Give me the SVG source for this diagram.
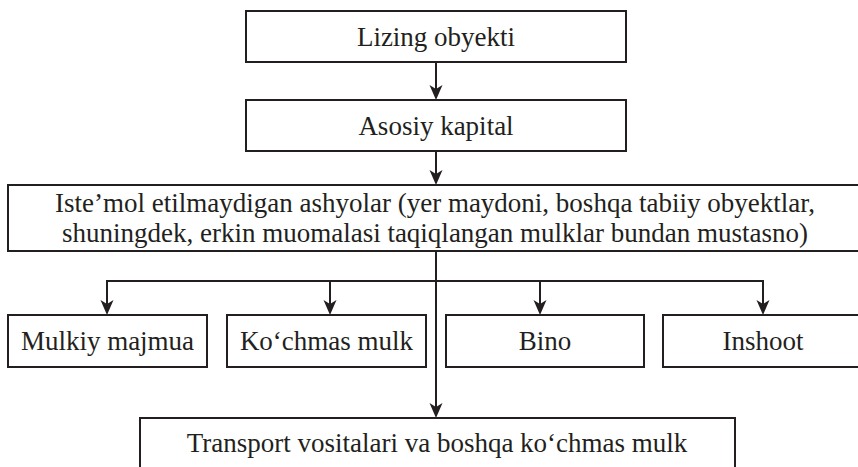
<svg xmlns="http://www.w3.org/2000/svg" width="858" height="467" viewBox="0 0 858 467">
<style>
.box{fill:#fff;stroke:#231f20;stroke-width:2}
.t{font-family:'Liberation Serif','Times New Roman',serif;font-size:27px;fill:#231f20;text-anchor:middle}
.ln{fill:none;stroke:#231f20;stroke-width:2}
.ah{fill:#231f20;stroke:none}
</style>
<rect width="858" height="467" fill="#fff"/>
<g id="connectors">
<path class="ln" d="M436,62 V90"/>
<path class="ah" d="M436,100 L429.5,85 L436,89 L442.5,85 Z"/>
<path class="ln" d="M436,151 V175"/>
<path class="ah" d="M436,185 L429.5,170 L436,174 L442.5,170 Z"/>
<path class="ln" d="M436,251 V408"/>
<path class="ah" d="M436,418 L429.5,403 L436,407 L442.5,403 Z"/>
<path class="ln" d="M107,305 V281 H763 V305"/>
<path class="ln" d="M330,281 V305"/>
<path class="ln" d="M540,281 V305"/>
<path class="ah" d="M107,315 L100.5,300 L107,304 L113.5,300 Z"/>
<path class="ah" d="M330,315 L323.5,300 L330,304 L336.5,300 Z"/>
<path class="ah" d="M540,315 L533.5,300 L540,304 L546.5,300 Z"/>
<path class="ah" d="M763,315 L756.5,300 L763,304 L769.5,300 Z"/>
</g>
<g id="lizing">
<rect class="box" x="246" y="11" width="380" height="51"/>
<text class="t" x="436" y="46">Lizing obyekti</text>
</g>
<g id="asosiy">
<rect class="box" x="246" y="100" width="380" height="51"/>
<text class="t" x="436" y="135">Asosiy kapital</text>
</g>
<g id="istemol">
<rect class="box" x="8" y="185" width="860" height="66"/>
<text class="t" x="435" y="212">Iste’mol etilmaydigan ashyolar (yer maydoni, boshqa tabiiy obyektlar,</text>
<text class="t" x="435" y="242">shuningdek, erkin muomalasi taqiqlangan mulklar bundan mustasno)</text>
</g>
<g id="mulkiy">
<rect class="box" x="8" y="315" width="199" height="52"/>
<text class="t" x="107.5" y="350">Mulkiy majmua</text>
</g>
<g id="kochmas">
<rect class="box" x="227" y="315" width="199" height="52"/>
<text class="t" x="326.5" y="350">Ko‘chmas mulk</text>
</g>
<g id="bino">
<rect class="box" x="446" y="315" width="198" height="52"/>
<text class="t" x="545" y="350">Bino</text>
</g>
<g id="inshoot">
<rect class="box" x="663" y="315" width="205" height="52"/>
<text class="t" x="763" y="350">Inshoot</text>
</g>
<g id="transport">
<rect class="box" x="140" y="418" width="595" height="60"/>
<text class="t" x="437" y="452">Transport vositalari va boshqa ko‘chmas mulk</text>
</g>
</svg>
